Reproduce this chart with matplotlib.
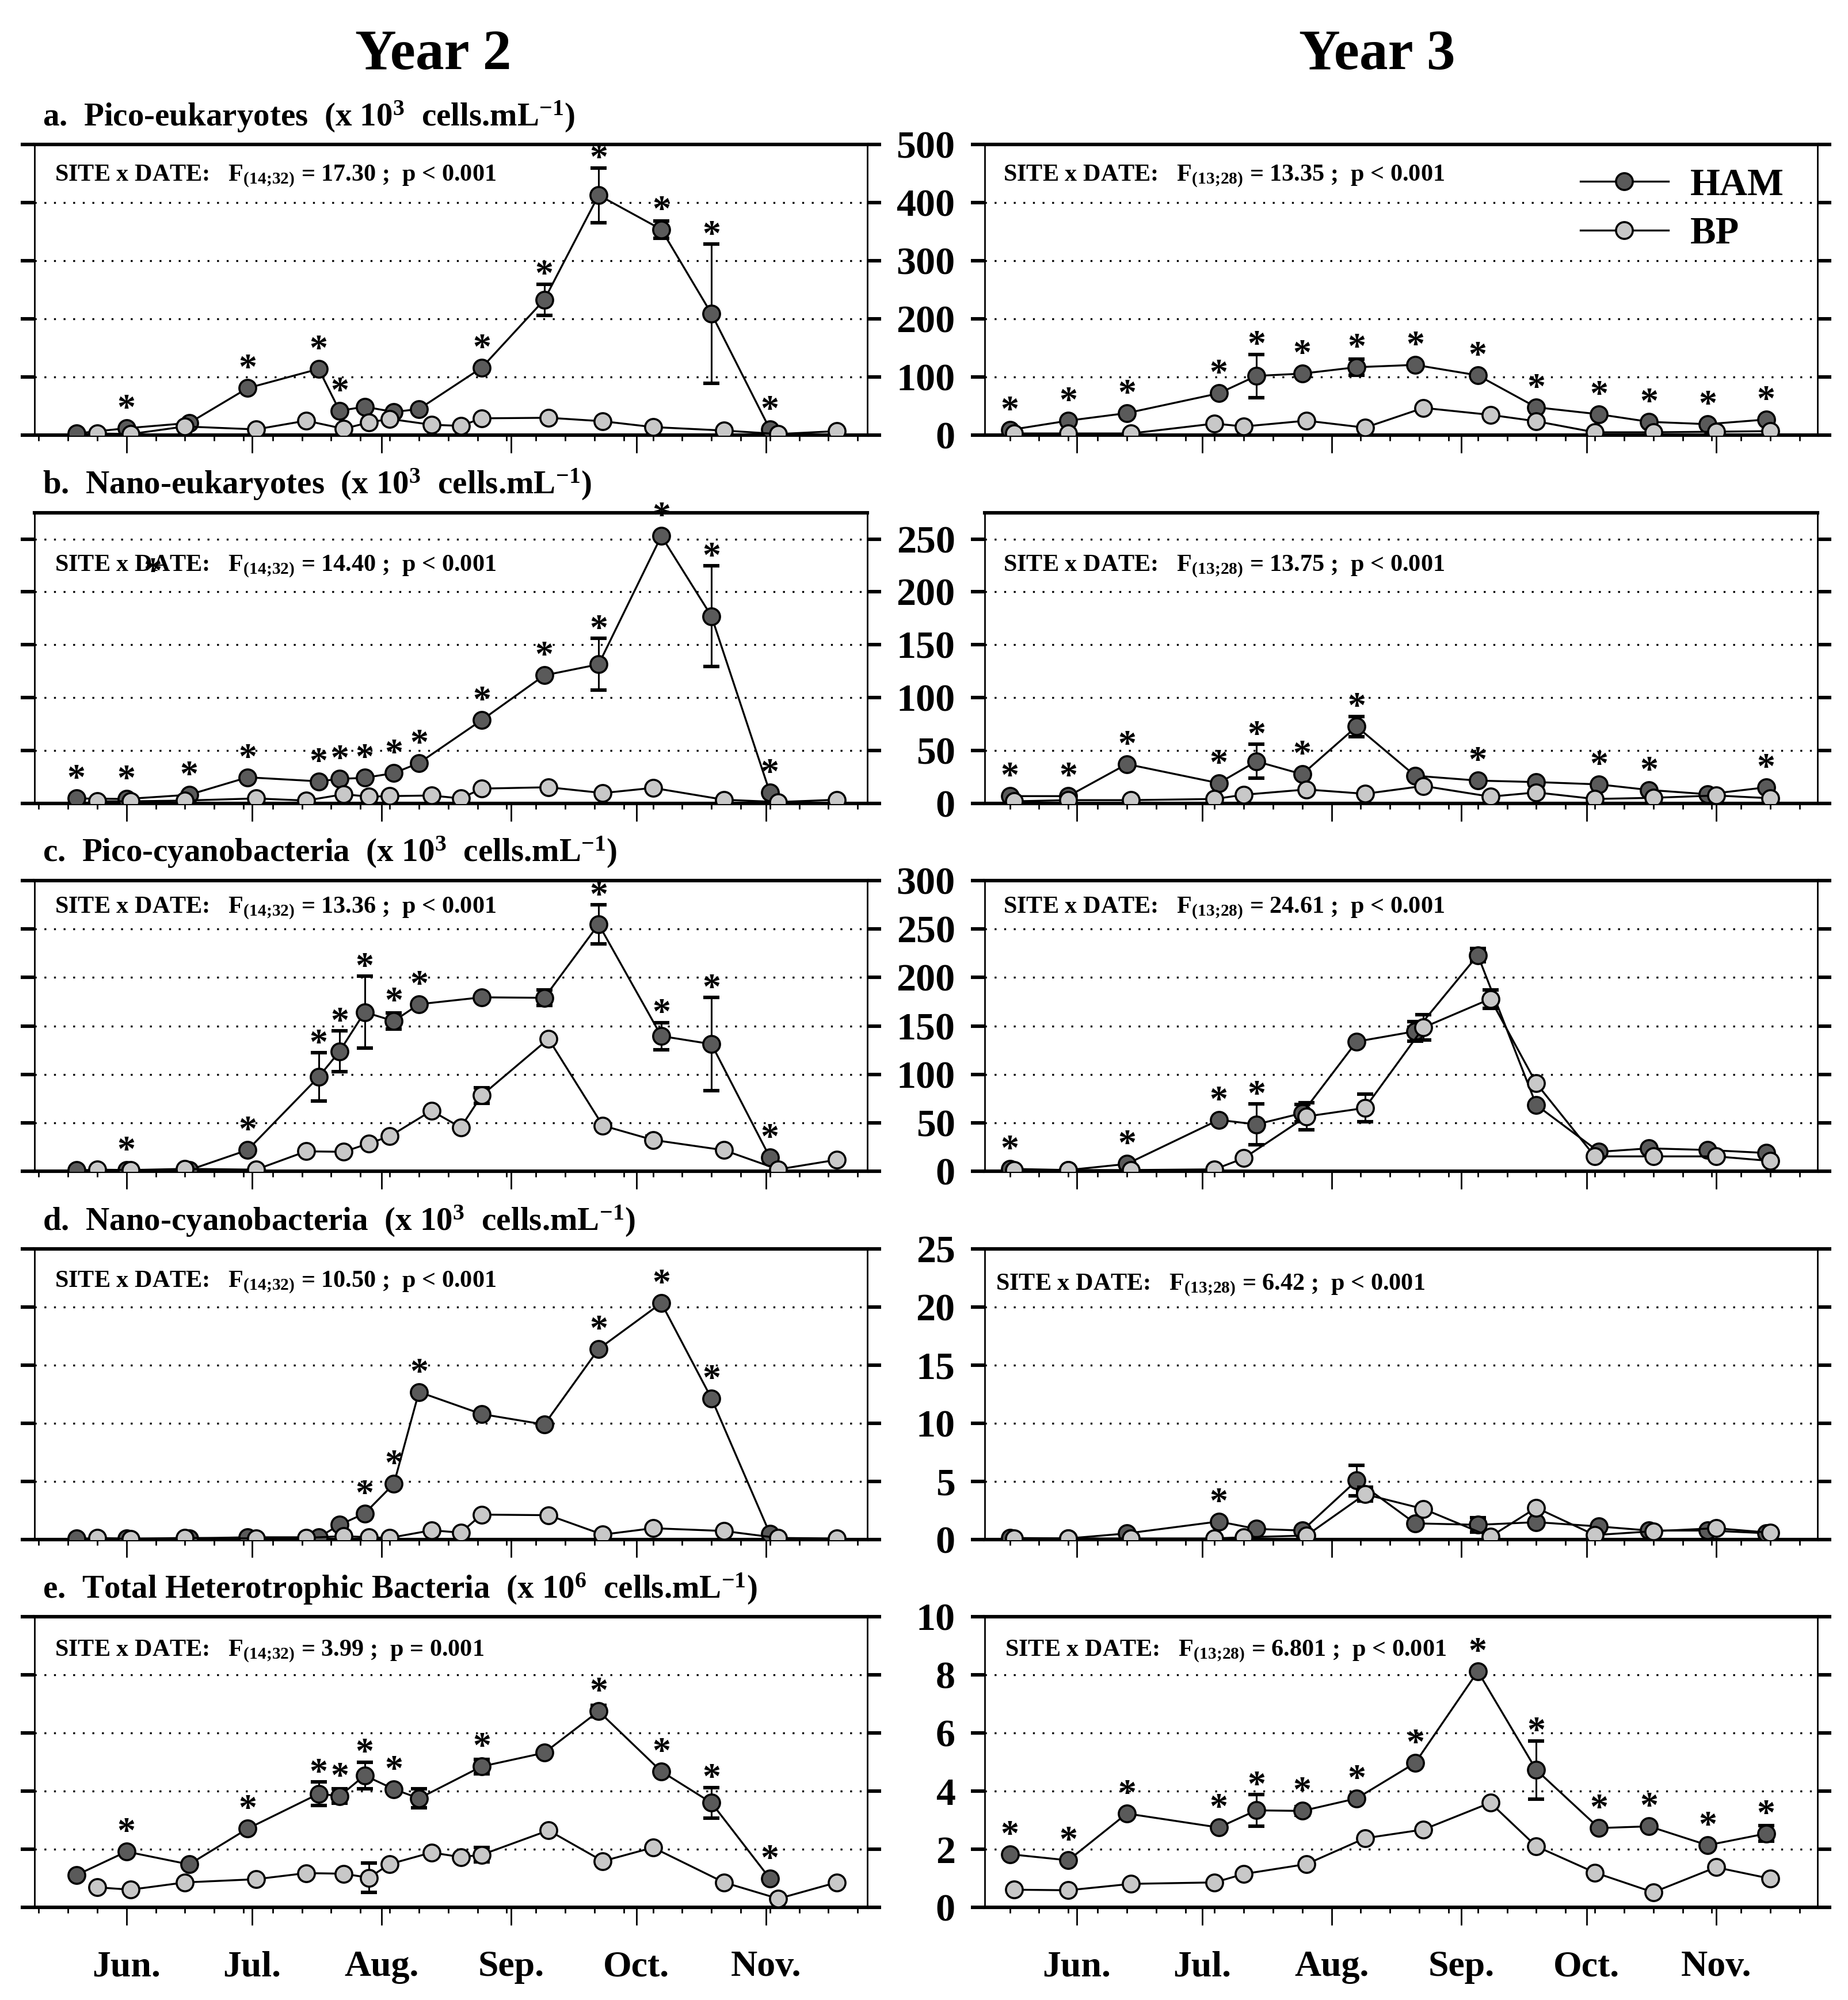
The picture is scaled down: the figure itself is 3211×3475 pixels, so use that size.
import numpy as np
import matplotlib.pyplot as plt

plt.rcParams['font.family'] = ['Liberation Serif', 'DejaVu Serif']
plt.rcParams['font.weight'] = 'bold'
plt.rcParams['mathtext.fontset'] = 'custom'
plt.rcParams['mathtext.rm'] = 'Liberation Serif:bold'
plt.rcParams['mathtext.it'] = 'Liberation Serif:bold'
plt.rcParams['mathtext.bf'] = 'Liberation Serif:bold'

# sampling dates (day of year)
ham_days_y2 = [140, 152, 167, 181, 198, 203, 209, 216, 222, 237, 252, 265, 280, 292, 306]
bp_days_y2 = [145, 153, 166, 183, 195, 204, 210, 215, 225, 232, 237, 253, 266, 278, 295, 308, 322]
ham_days_y3 = [136, 150, 164, 186, 195, 206, 219, 233, 248, 262, 277, 289, 303, 317]
bp_days_y3 = [137, 150, 165, 185, 192, 207, 221, 235, 251, 262, 276, 290, 305, 318]

month_days = [152, 182, 213, 244, 274, 305]
month_labels = ['Jun.', 'Jul.', 'Aug.', 'Sep.', 'Oct.', 'Nov.']

# a. pico-eukaryotes
pe_ham_y2 = [3, 12, 21, 81, 114, 42, 49, 40, 45, 116, 233, 413, 354, 209, 10]
pe_ham_y2_err = [0, 0, 0, 0, 0, 0, 0, 0, 0, 0, 27, 47, 15, 120, 0]
pe_ham_y2_star = [0, 1, 0, 1, 1, 1, 0, 0, 0, 1, 1, 1, 1, 1, 1]
pe_bp_y2 = [3, 2, 15, 10, 25, 11, 22, 28, 18, 16, 29, 30, 24, 14, 8, 2, 7]
pe_bp_y2_err = [0] * 17
pe_ham_y3 = [9, 25, 38, 72, 102, 106, 117, 121, 103, 48, 36, 23, 19, 27]
pe_ham_y3_err = [0, 0, 0, 0, 37, 0, 14, 0, 0, 0, 0, 0, 0, 0]
pe_ham_y3_star = [1] * 14
pe_bp_y3 = [3, 3, 3, 20, 15, 25, 13, 47, 35, 24, 5, 5, 6, 7]
pe_bp_y3_err = [0] * 14

# b. nano-eukaryotes
ne_ham_y2 = [4.5, 4, 8, 24.5, 20.7, 23, 24, 28.5, 38, 78.6, 121, 131.4, 252.8, 177, 10]
ne_ham_y2_err = [0, 0, 0, 0, 0, 0, 0, 0, 0, 0, 0, 24.5, 0, 47.5, 0]
ne_ham_y2_star = [1] * 15
ne_bp_y2 = [1.8, 1.8, 2.5, 4.5, 2.5, 8.5, 6.2, 6.7, 7.3, 4.5, 13.8, 15.1, 9.6, 14.5, 3.3, 1.1, 3.3]
ne_bp_y2_err = [0] * 17
ne_ham_y3 = [6.7, 6.7, 37, 19, 39.6, 27.4, 72.6, 26, 21.4, 20, 17.8, 12.5, 8.5, 15]
ne_ham_y3_err = [0, 0, 0, 0, 16, 0, 9.5, 0, 0, 0, 0, 0, 0, 0]
ne_ham_y3_star = [1, 1, 1, 1, 1, 1, 1, 0, 1, 0, 1, 1, 0, 1]
ne_bp_y3 = [1.8, 2.9, 2.9, 4, 8, 13, 8.9, 16.3, 6.2, 10.2, 4, 5.1, 7.3, 4.7]
ne_bp_y3_err = [0] * 14

# c. pico-cyanobacteria
pc_ham_y2 = [1.2, 1.2, 1.2, 21.9, 97.3, 123.7, 164.2, 155, 172.4, 179.5, 179, 254.9, 139.5, 131.2, 14.1]
pc_ham_y2_err = [0, 0, 0, 0, 25, 21, 37, 8.5, 0, 0, 8, 20, 14, 48, 0]
pc_ham_y2_star = [0, 1, 0, 1, 1, 1, 1, 1, 1, 0, 0, 1, 1, 1, 1]
pc_bp_y2 = [1.6, 1.2, 2.4, 1.6, 20.5, 20, 28.7, 36, 62.4, 45.2, 78.2, 136.6, 47.1, 32.3, 21.7, 1.9, 11.8]
pc_bp_y2_err = [0, 0, 0, 0, 0, 0, 0, 0, 0, 0, 8, 0, 0, 4, 0, 0, 0]
pc_ham_y3 = [2.4, 1.2, 7.5, 53, 48.3, 60, 133.8, 144.4, 223, 68.3, 20, 23.6, 21.9, 18.8]
pc_ham_y3_err = [0, 0, 0, 0, 21, 9, 0, 10, 7, 0, 0, 0, 0, 0]
pc_ham_y3_star = [1, 0, 1, 1, 1, 0, 0, 0, 0, 0, 0, 0, 0, 0]
pc_bp_y3 = [1.2, 1.2, 1.2, 1.9, 13.4, 56.5, 65.3, 148.4, 177.9, 90.7, 15.3, 15.3, 15.3, 10.6]
pc_bp_y3_err = [0, 0, 0, 0, 0, 14, 14, 13, 9.5, 0, 0, 0, 0, 0]

# d. nano-cyanobacteria
nc_ham_y2 = [0.1, 0.1, 0.1, 0.2, 0.2, 1.27, 2.25, 4.8, 12.7, 10.8, 9.9, 16.4, 20.35, 12.15, 0.5]
nc_ham_y2_err = [0] * 15
nc_ham_y2_star = [0, 0, 0, 0, 0, 0, 1, 1, 1, 0, 0, 1, 1, 1, 0]
nc_bp_y2 = [0.15, 0.05, 0.15, 0.1, 0.15, 0.3, 0.2, 0.15, 0.8, 0.6, 2.15, 2.1, 0.43, 0.98, 0.74, 0.14, 0.1]
nc_bp_y2_err = [0] * 17
nc_ham_y3 = [0.14, 0.1, 0.53, 1.56, 0.92, 0.78, 5.08, 1.4, 1.27, 1.5, 1.13, 0.78, 0.78, 0.55]
nc_ham_y3_err = [0, 0, 0, 0, 0, 0, 1.3, 0, 0.6, 0, 0, 0, 0, 0]
nc_ham_y3_star = [0, 0, 0, 1, 0, 0, 0, 0, 0, 0, 0, 0, 0, 0]
nc_bp_y3 = [0.1, 0.1, 0.1, 0.1, 0.2, 0.35, 3.9, 2.64, 0.25, 2.74, 0.39, 0.72, 0.98, 0.59]
nc_bp_y3_err = [0, 0, 0, 0, 0, 0, 0.6, 0, 0, 0, 0, 0, 0, 0]

# e. total heterotrophic bacteria
hb_ham_y2 = [1.11, 1.92, 1.48, 2.71, 3.91, 3.83, 4.54, 4.07, 3.75, 4.85, 5.32, 6.75, 4.68, 3.6, 0.99]
hb_ham_y2_err = [0, 0, 0, 0, 0.4, 0.25, 0.46, 0, 0.33, 0.25, 0, 0.2, 0, 0.53, 0]
hb_ham_y2_star = [0, 1, 0, 1, 1, 1, 1, 1, 0, 1, 0, 1, 1, 1, 1]
hb_bp_y2 = [0.69, 0.61, 0.86, 0.97, 1.18, 1.16, 1.02, 1.49, 1.89, 1.73, 1.81, 2.65, 1.59, 2.06, 0.86, 0.3, 0.86]
hb_bp_y2_err = [0, 0, 0, 0, 0, 0, 0.5, 0, 0, 0, 0.25, 0, 0, 0, 0, 0, 0]
hb_ham_y3 = [1.83, 1.62, 3.23, 2.75, 3.34, 3.32, 3.75, 4.97, 8.12, 4.73, 2.73, 2.79, 2.14, 2.54]
hb_ham_y3_err = [0, 0, 0, 0, 0.54, 0.15, 0, 0, 0, 1.0, 0, 0, 0, 0.27]
hb_ham_y3_star = [1] * 14
hb_bp_y3 = [0.61, 0.59, 0.81, 0.86, 1.15, 1.49, 2.38, 2.68, 3.6, 2.1, 1.2, 0.52, 1.38, 0.99]
hb_bp_y3_err = [0] * 14

titles = [r'a.  Pico-eukaryotes  (x 10$^{3}$  cells.mL$^{-1}$)',
          r'b.  Nano-eukaryotes  (x 10$^{3}$  cells.mL$^{-1}$)',
          r'c.  Pico-cyanobacteria  (x 10$^{3}$  cells.mL$^{-1}$)',
          r'd.  Nano-cyanobacteria  (x 10$^{3}$  cells.mL$^{-1}$)',
          r'e.  Total Heterotrophic Bacteria  (x 10$^{6}$  cells.mL$^{-1}$)']
# U+037E looks like ';' but mathtext adds no space after it
stats_y2 = ['SITE x DATE:   F$_{(14\u037e32)}$ = 17.30 ;  p < 0.001',
            'SITE x DATE:   F$_{(14\u037e32)}$ = 14.40 ;  p < 0.001',
            'SITE x DATE:   F$_{(14\u037e32)}$ = 13.36 ;  p < 0.001',
            'SITE x DATE:   F$_{(14\u037e32)}$ = 10.50 ;  p < 0.001',
            'SITE x DATE:   F$_{(14\u037e32)}$ = 3.99 ;  p = 0.001']
stats_y3 = ['SITE x DATE:   F$_{(13\u037e28)}$ = 13.35 ;  p < 0.001',
            'SITE x DATE:   F$_{(13\u037e28)}$ = 13.75 ;  p < 0.001',
            'SITE x DATE:   F$_{(13\u037e28)}$ = 24.61 ;  p < 0.001',
            'SITE x DATE:   F$_{(13\u037e28)}$ = 6.42 ;  p < 0.001',
            'SITE x DATE:   F$_{(13\u037e28)}$ = 6.801 ;  p < 0.001']
stats_y = [0.875, 0.80, 0.889, 0.87, 0.865]
stats_x3 = [0.022, 0.022, 0.022, 0.013, 0.024]

ymaxes = [500, 275, 300, 25, 10]
ysteps = [100, 50, 50, 5, 2]

panels_y2 = [
    (pe_ham_y2, pe_ham_y2_err, pe_ham_y2_star, pe_bp_y2, pe_bp_y2_err),
    (ne_ham_y2, ne_ham_y2_err, ne_ham_y2_star, ne_bp_y2, ne_bp_y2_err),
    (pc_ham_y2, pc_ham_y2_err, pc_ham_y2_star, pc_bp_y2, pc_bp_y2_err),
    (nc_ham_y2, nc_ham_y2_err, nc_ham_y2_star, nc_bp_y2, nc_bp_y2_err),
    (hb_ham_y2, hb_ham_y2_err, hb_ham_y2_star, hb_bp_y2, hb_bp_y2_err)]
panels_y3 = [
    (pe_ham_y3, pe_ham_y3_err, pe_ham_y3_star, pe_bp_y3, pe_bp_y3_err),
    (ne_ham_y3, ne_ham_y3_err, ne_ham_y3_star, ne_bp_y3, ne_bp_y3_err),
    (pc_ham_y3, pc_ham_y3_err, pc_ham_y3_star, pc_bp_y3, pc_bp_y3_err),
    (nc_ham_y3, nc_ham_y3_err, nc_ham_y3_star, nc_bp_y3, nc_bp_y3_err),
    (hb_ham_y3, hb_ham_y3_err, hb_ham_y3_star, hb_bp_y3, hb_bp_y3_err)]

HAM_COL = '#5a5a5a'
BP_COL = '#c8c8c8'
STAR_FS = 23


def errbars(ax, days, vals, err, z):
    d = np.array(days, float)
    v = np.array(vals, float)
    e = np.array(err, float)
    m = e > 0
    if m.any():
        ax.errorbar(d[m], v[m], yerr=e[m], fmt='none', ecolor='black',
                    elinewidth=1.1, capsize=5, capthick=2.2, zorder=z)


def star(ax, xy, coords):
    ax.annotate('*', xy=xy, xycoords=coords,
                xytext=(0, -0.5 * STAR_FS), textcoords='offset points',
                ha='center', va='baseline', fontsize=STAR_FS, zorder=8)


def draw(ax, hd, bd, data, ymax, step, stat, sx, sy, minor0, year3):
    ham, ham_err, stars, bp, bp_err = data
    errbars(ax, hd, ham, ham_err, 3)
    h1, = ax.plot(hd, ham, '-o', color='black', lw=1.2, ms=10.5, mfc=HAM_COL,
                  mec='black', mew=1.3, zorder=4)
    errbars(ax, bd, bp, bp_err, 5)
    h2, = ax.plot(bd, bp, '-o', color='black', lw=1.2, ms=10.5, mfc=BP_COL,
                  mec='black', mew=1.3, zorder=6)
    for x, v, e, s in zip(hd, ham, ham_err, stars):
        if s:
            yc = max(v / ymax + 0.095, (v + e) / ymax + 0.06)
            star(ax, (x, yc), ax.get_xaxis_transform())
    ax.set_xlim(130, 329.3)
    ax.set_ylim(0, ymax)
    yt = np.arange(0, ymax + 0.001, step)
    ax.set_yticks(yt)
    for g in yt[1:]:
        if g < ymax:
            ax.axhline(g, color='black', lw=1.2, ls=(0, (1, 4)), zorder=1)
    ax.set_xticks(month_days)
    ax.set_xticks(np.arange(minor0, 329.3, 7), minor=True)
    ax.tick_params(axis='x', which='major', direction='out', length=11,
                   width=1, bottom=True, top=False, labelsize=23, pad=16)
    ax.tick_params(axis='x', which='minor', direction='out', length=3.5,
                   width=1, bottom=True, top=False)
    ax.tick_params(axis='y', direction='out', length=8.5, width=2.2,
                   left=True, right=True, labelleft=year3, labelsize=24.5, pad=10)
    for sp in ['top', 'bottom']:
        ax.spines[sp].set_linewidth(2.2)
    for sp in ['left', 'right']:
        ax.spines[sp].set_linewidth(1.0)
    ax.text(sx, sy, stat, transform=ax.transAxes, fontsize=15.2,
            ha='left', va='baseline')
    return h1, h2


fig = plt.figure(figsize=(16.06, 17.375), dpi=200)
bottoms = [0.7824, 0.5984, 0.4144, 0.2302, 0.0463]
h = 0.1453
w = 0.4505

for i in range(5):
    axl = fig.add_axes([0.01868, bottoms[i], w, h])
    axr = fig.add_axes([0.5327, bottoms[i], w, h])
    draw(axl, ham_days_y2, bp_days_y2, panels_y2[i], ymaxes[i], ysteps[i],
         stats_y2[i], 0.024, stats_y[i], 131, False)
    hh, hb = draw(axr, ham_days_y3, bp_days_y3, panels_y3[i], ymaxes[i], ysteps[i],
                  stats_y3[i], stats_x3[i], stats_y[i] - (0.01 if i == 3 else 0), 136, True)
    axl.text(0.01, 1.065, titles[i], transform=axl.transAxes, fontsize=20.5,
             ha='left', va='baseline')
    if i == 4:
        axl.set_xticklabels(month_labels)
        axr.set_xticklabels(month_labels)
    else:
        axl.set_xticklabels([])
        axr.set_xticklabels([])
    if i == 1:
        # stray asterisk over "DATE" in the original
        star(axl, (0.142, 0.823), 'axes fraction')
    if i == 0:
        axr.legend([hh, hb], ['HAM', 'BP'], loc='upper left',
                   bbox_to_anchor=(0.715, 0.92), frameon=False, fontsize=24,
                   handlelength=2.3, handletextpad=0.57, labelspacing=0.35,
                   borderpad=0, borderaxespad=0)

fig.text(0.2344, 0.9655, 'Year 2', fontsize=35.8, ha='center', va='baseline')
fig.text(0.745, 0.9655, 'Year 3', fontsize=35.8, ha='center', va='baseline')

fig.savefig('out.png', dpi=200)
